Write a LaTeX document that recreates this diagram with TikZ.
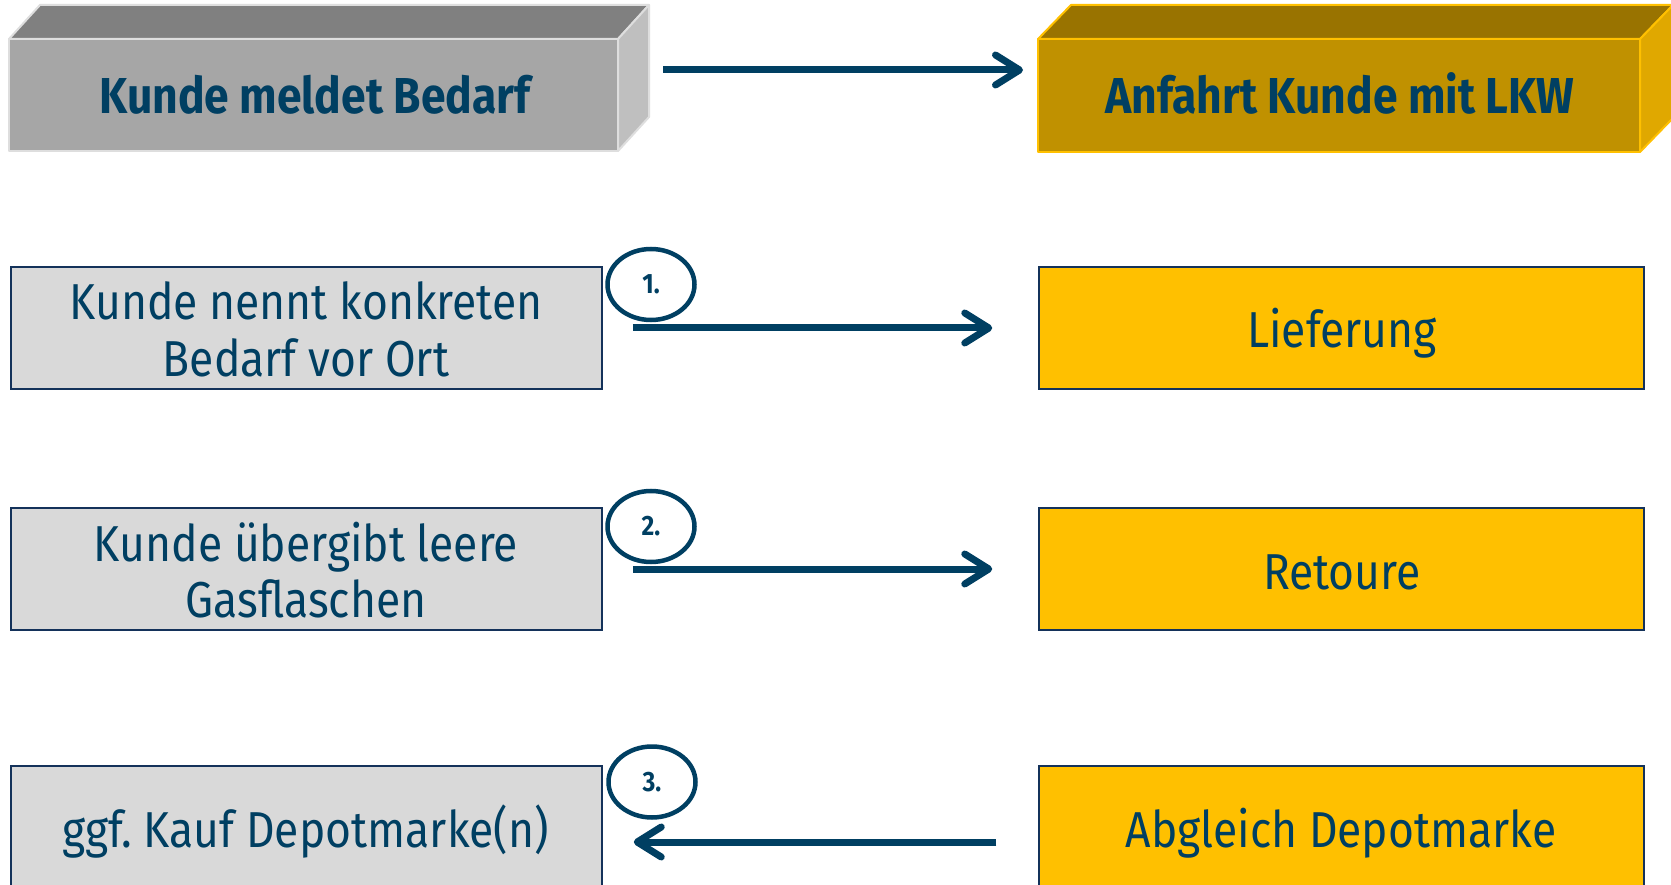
\documentclass[tikz,border=0pt]{standalone}
\usepackage{fontspec}
\setmainfont{Fira Sans}[FakeStretch=0.88]
\usetikzlibrary{arrows.meta,shapes.geometric}
\definecolor{tblue}{RGB}{0,63,98}
\definecolor{navy}{RGB}{20,50,90}
\definecolor{lgray}{RGB}{217,217,217}
\definecolor{gfront}{RGB}{166,166,166}
\definecolor{gtop}{RGB}{128,128,128}
\definecolor{gside}{RGB}{191,191,191}
\definecolor{gedge}{RGB}{222,222,222}
\definecolor{yfront}{RGB}{192,145,0}
\definecolor{ytop}{RGB}{153,115,0}
\definecolor{yside}{RGB}{224,168,0}
\definecolor{yel}{RGB}{255,192,0}
\frenchspacing
\begin{document}
\begin{tikzpicture}[x=1pt,y=-1pt,
  txt/.style={text=tblue, inner sep=0pt, font=\fontsize{50.5}{58}\selectfont},
  ttl/.style={text=tblue, inner sep=0pt, font=\bfseries\fontsize{50.5}{58}\selectfont},
  face/.style={line width=2pt, line join=round},
  lbox/.style={draw=navy, fill=lgray, line width=1.5pt, minimum width=591pt, minimum height=122pt, inner sep=0pt},
  rbox/.style={draw=navy, fill=yel, line width=1.5pt, minimum width=605pt, minimum height=122pt, inner sep=0pt},
  num/.style={ellipse, draw=tblue, line width=4.5pt, minimum width=87pt, minimum height=71pt, inner sep=0pt, text=tblue, font=\bfseries\fontsize{28}{32}\selectfont},
  arr/.style={draw=tblue, line width=7pt, -{Straight Barb[length=24pt,width=30pt,round]}},
]
\fill[white] (0,0) rectangle (1671,885);
\useasboundingbox (0,0) rectangle (1671,885);

% --- top left 3D box
\filldraw[face, fill=gtop, draw=gedge] (9,39) -- (40,5) -- (649,5) -- (618,39) -- cycle;
\filldraw[face, fill=gside, draw=gedge] (618,39) -- (649,5) -- (649,117) -- (618,151) -- cycle;
\node[face, draw=gedge, fill=gfront, minimum width=609pt, minimum height=112pt, inner sep=0pt] (t1) at (313.5,95) {};
\node[ttl, anchor=base] (t1txt) at (315,113.5) {Kunde meldet Bedarf};

% --- top right 3D box
\filldraw[face, fill=ytop, draw=yel] (1038,39) -- (1071,5) -- (1673,5) -- (1640,39) -- cycle;
\filldraw[face, fill=yside, draw=yel] (1640,39) -- (1673,5) -- (1673,118) -- (1640,152) -- cycle;
\node[face, draw=yel, fill=yfront, minimum width=602pt, minimum height=113pt, inner sep=0pt] (t2) at (1339,95.5) {};
\node[ttl, anchor=base] (t2txt) at (1340,113.5) {Anfahrt Kunde mit LKW};

\coordinate (ta) at (663,70);
\coordinate (tb) at (1023,70);
\draw[arr] (ta) -- (tb);

% --- rows
\node[lbox] (lb1) at (306.5,328) {};
\node[rbox] (rb1) at (1341.5,328) {};
\node[lbox] (lb2) at (306.5,569) {};
\node[rbox] (rb2) at (1341.5,569) {};
\node[lbox] (lb3) at (306.5,827) {};
\node[rbox] (rb3) at (1341.5,827) {};

\node[txt, anchor=base] (l1a) at (306,320) {Kunde nennt konkreten};
\node[txt, anchor=base] (l1b) at (306,376) {Bedarf vor Ort};
\node[txt, anchor=base] (r1) at (1342,348) {Lieferung};
\node[txt, anchor=base] (l2a) at (306,561) {Kunde übergibt leere};
\node[txt, anchor=base] (l2b) at (306,617) {Gasflaschen};
\node[txt, anchor=base] (r2) at (1342,589) {Retoure};
\node[txt, anchor=base] (l3) at (305.5,847) {ggf. Kauf Depotmarke(n)};
\node[txt, anchor=base] (r3) at (1341,847) {Abgleich Depotmarke};

\node[num] (n1) at (651,284.5) {1.};
\node[num] (n2) at (651,526.5) {2.};
\node[num] (n3) at (652,782) {3.};

\draw[arr] ([xshift=30pt]lb1.east) -- ([xshift=-46pt]rb1.west);
\draw[arr] ([xshift=30pt]lb2.east) -- ([xshift=-46pt]rb2.west);
\draw[arr] ([xshift=-42pt,yshift=-15pt]rb3.west) -- ([xshift=31pt,yshift=-15pt]lb3.east);
\end{tikzpicture}
\end{document}
